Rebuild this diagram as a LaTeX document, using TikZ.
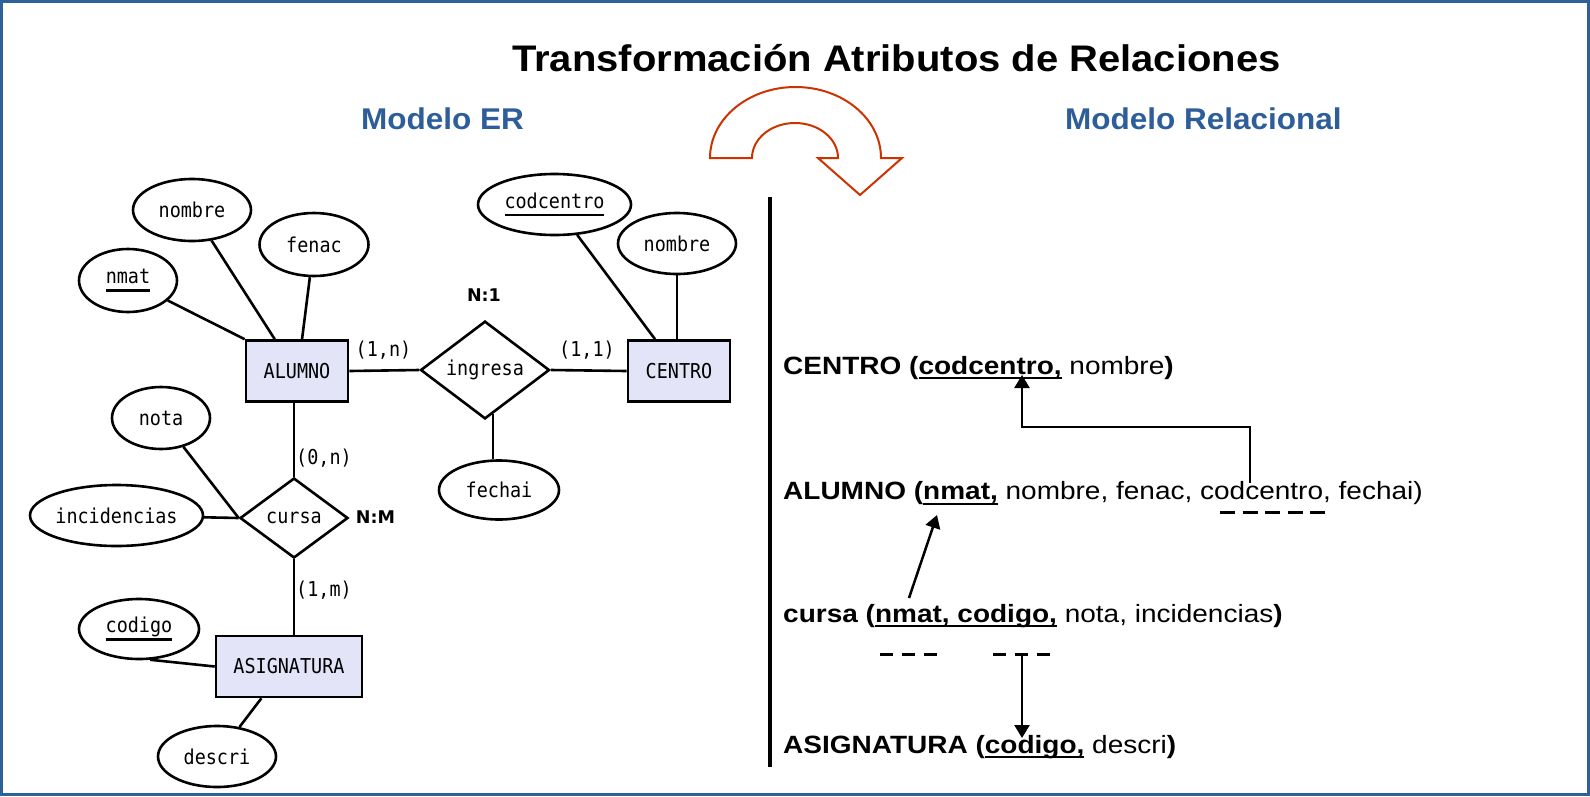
\documentclass[tikz,border=0pt]{standalone}
\usepackage{fontspec}
\setmainfont{Liberation Sans}
\newfontfamily\ttlfont[FakeStretch=1.08]{Liberation Sans}
\newfontfamily\mdlfont[FakeStretch=1.05]{Liberation Sans}
\newfontfamily\relfont[FakeStretch=1.12]{Liberation Sans}
\newfontfamily\erfont[FakeStretch=0.9]{DejaVu Sans Mono}
\newfontfamily\cardfont{DejaVu Sans}
\usetikzlibrary{shapes.geometric,arrows.meta}
\definecolor{frameblue}{RGB}{47,97,153}
\definecolor{headblue}{RGB}{46,94,154}
\definecolor{uturnred}{RGB}{204,51,0}
\definecolor{entfill}{RGB}{228,228,248}
\newcommand\erul[1]{\setbox0\hbox{#1}\rlap{\rule[-8pt]{\wd0}{2.6pt}}\box0}
\newcommand\relul[1]{\setbox0\hbox{#1}\rlap{\rule[-5pt]{\wd0}{2pt}}\box0}
\tikzset{
  erfnt/.style={font=\erfont\fontsize{20.5}{22}\selectfont},
  erline/.style={line width=2.6pt},
  entity/.style={draw, line width=2.6pt, fill=entfill, inner sep=0pt, erfnt},
  attr/.style={draw, ellipse, line width=2.6pt, inner sep=0pt, erfnt},
  relship/.style={draw, diamond, line width=2.6pt, inner sep=0pt, erfnt},
  card/.style={inner sep=0pt, erfnt},
  ratio/.style={inner sep=0pt, font=\cardfont\bfseries\fontsize{17.5}{19}\selectfont},
  reltext/.style={anchor=base west, inner sep=0pt, font=\relfont\fontsize{25}{28}\selectfont},
  heading/.style={anchor=base west, inner sep=0pt, text=headblue, font=\mdlfont\bfseries\fontsize{30}{32}\selectfont},
  fk/.style={line width=2.5pt, -{Triangle[width=15pt,length=13pt]}},
  fkdashA/.style={line width=3pt, dash pattern=on 15pt off 7.5pt},
  fkdashB/.style={line width=3pt, dash pattern=on 13pt off 9pt},
  uturn/.style={draw=uturnred, line width=2pt, fill=white, line join=miter},
}
\begin{document}
\begin{tikzpicture}[x=1pt, y=-1pt]
\useasboundingbox (0,0) rectangle (1590,796);
\fill[white] (0,0) rectangle (1590,796);
\draw[frameblue, line width=2.6pt] (1.3,1.3) rectangle (1588.7,794.7);

% titles
\node[anchor=base west, inner sep=0pt, font=\ttlfont\bfseries\fontsize{37}{40}\selectfont] (title) at (512,71) {Transformación Atributos de Relaciones};
\node[heading] (hER) at (361,129) {Modelo ER};
\node[heading] (hRel) at (1065,129) {Modelo Relacional};

% u-turn arrow
\draw[uturn] (710,158) arc[start angle=180, end angle=360, x radius=85.5, y radius=71]
  -- (902,158) -- (860,195) -- (818,158) -- (838,158)
  arc[start angle=0, end angle=-180, x radius=43, y radius=35] -- cycle;

% divider
\draw[line width=4pt] (770,197) -- (770,767);

% ER entities
\node[entity, minimum width=102pt, minimum height=61pt] (alumno) at (297,371) {ALUMNO};
\node[entity, minimum width=102pt, minimum height=61pt] (centro) at (679,371) {CENTRO};
\node[entity, minimum width=146pt, minimum height=61pt] (asig) at (289,666.5) {ASIGNATURA};

% relationships
\node[relship, minimum width=129pt, minimum height=97pt] (ingresa) at (485,370) {ingresa};
\node[relship, minimum width=108pt, minimum height=80pt] (cursa) at (294,518) {cursa};

% attributes
\node[attr, minimum width=98pt, minimum height=63pt] (nmat) at (128,280.5) {\erul{nmat}};
\node[attr, minimum width=118pt, minimum height=62pt] (nombreA) at (192,210) {nombre};
\node[attr, minimum width=109pt, minimum height=63pt] (fenac) at (314,244.5) {fenac};
\node[attr, minimum width=153pt, minimum height=61pt] (codcentro) at (554.5,204.5) {\erul{codcentro}};
\node[attr, minimum width=118pt, minimum height=61pt] (nombreC) at (677,243.5) {nombre};
\node[attr, minimum width=120pt, minimum height=59pt] (fechai) at (499,490) {fechai};
\node[attr, minimum width=98pt, minimum height=62pt] (nota) at (161,418) {nota};
\node[attr, minimum width=173pt, minimum height=61pt] (incid) at (116.5,515.5) {incidencias};
\node[attr, minimum width=120pt, minimum height=60pt] (codigo) at (139,629) {\erul{codigo}};
\node[attr, minimum width=118pt, minimum height=61pt] (descri) at (217,756.5) {descri};

% ER connectors
\draw[erline] (nmat) -- (alumno.north west);
\draw[erline] (nombreA) -- (alumno.125);
\draw[erline] (fenac) -- (alumno.81);
\draw[erline] (cursa.north) -- (cursa.north |- alumno.south);
\draw[erline] (nota) -- (cursa.west);
\draw[erline] (incid) -- (cursa.west);
\draw[erline] (cursa.south) -- (cursa.south |- asig.north);
\draw[erline] (codigo.-70) -- (asig.west);
\draw[erline] (descri) -- (asig.229);
\draw[erline] (alumno.east) -- (ingresa.west);
\draw[erline] (ingresa.east) -- (centro.west);
\draw[erline] (codcentro) -- (centro.127);
\draw[erline] (nombreC.south) -- (nombreC.south |- centro.north);
\draw[erline] (ingresa.-80) -- (ingresa.-80 |- fechai.north);

% cardinalities
\node[card] (c1n) at (383.5,350) {(1,n)};
\node[card] (c11) at (587,350) {(1,1)};
\node[card] (c0n) at (324,458) {(0,n)};
\node[card] (c1m) at (324,590) {(1,m)};
\node[ratio] (rN1) at (484,295) {N:1};
\node[ratio] (rNM) at (375.5,517) {N:M};

% relational model
\node[reltext] (centrorel) at (783,374) {{\bfseries CENTRO (\relul{codcentro,}} nombre{\bfseries)}};
\node[reltext] (alumnorel) at (783,499.5) {{\bfseries ALUMNO (\relul{nmat,}} nombre, fenac, codcentro, fechai)};
\node[reltext] (cursarel) at (783,622) {{\bfseries cursa (\relul{nmat, codigo,}} nota, incidencias{\bfseries)}};
\node[reltext] (asigrel) at (783,753) {{\bfseries ASIGNATURA (\relul{codigo,}} descri{\bfseries)}};

% foreign key marks
\coordinate (fkAs) at (1220,512);
\coordinate (fkAe) at (1325,512);
\coordinate (fkB1s) at (880,654);
\coordinate (fkB1e) at (937,654);
\coordinate (fkB2s) at (993,654);
\coordinate (fkB2e) at (1052,654);
\draw[fkdashA] (fkAs) -- (fkAe);
\draw[fkdashB] (fkB1s) -- (fkB1e);
\draw[fkdashB] (fkB2s) -- (fkB2e);

% foreign key arrows
\coordinate (fkcod) at (1250,483);
\coordinate (pkcentro) at (1022,375);
\coordinate (fknmat) at (909,598);
\coordinate (pknmat) at (937,515);
\coordinate (fkcodigo) at (1022,654);
\coordinate (pkcodigo) at (1022,738);
\draw[fk] (fkcod) -- ++(0,-56) -| (pkcentro);
\draw[fk] (fknmat) -- (pknmat);
\draw[fk] (fkcodigo) -- (pkcodigo);
\end{tikzpicture}
\end{document}
